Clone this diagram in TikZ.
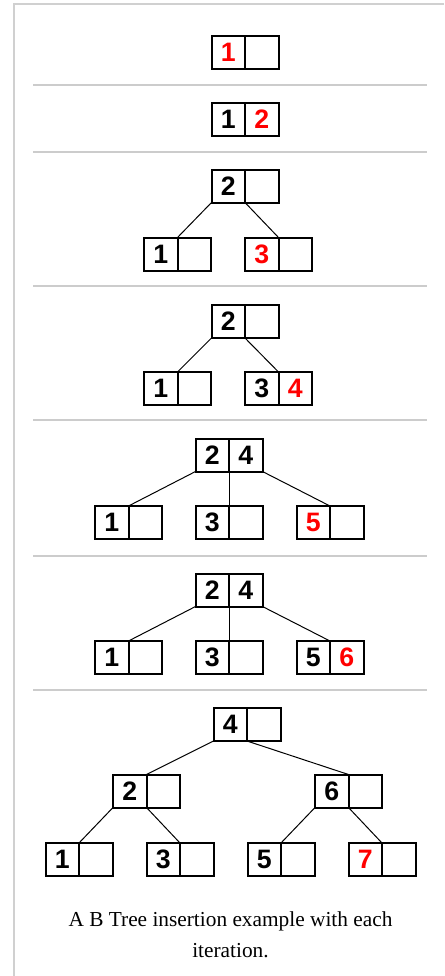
\documentclass[tikz,border=0pt]{standalone}
\usepackage{fontspec}
\setmainfont{Liberation Serif}
\newfontfamily\keyfont{Liberation Sans}
\usepackage{xcolor}
\usepackage{tikz}
\usetikzlibrary{positioning}
\definecolor{KeyRed}{HTML}{FF0000}
\definecolor{RuleGray}{HTML}{CCCCCC}
\definecolor{FrameGray}{HTML}{D0D0D0}
\newcommand{\key}[1]{\makebox[25.125pt][c]{#1}}
\newcommand{\newkey}[1]{\key{\color{KeyRed}#1}}

\begin{document}
\begin{tikzpicture}[x=0.75pt, y=-0.75pt,
    bnode/.style={draw, line width=1.5pt, minimum width=50.25pt, minimum height=24.75pt,
                  inner sep=0pt, outer sep=0pt,
                  font=\keyfont\fontsize{20}{20}\selectfont\bfseries,
                  path picture={\draw[line width=1.5pt] (path picture bounding box.north)
                                -- (path picture bounding box.south);}},
    link/.style={line width=0.75pt},
    rule/.style={RuleGray, line width=1.5pt},
    frame/.style={FrameGray, line width=1.5pt},
  ]
    \useasboundingbox (0,0) rectangle (444,976);
    % frame and separators
    \draw[frame] (444,4) -- (14,4) -- (14,976);
    \foreach \y in {85,152,286,420,556,690}
      \draw[rule] (33,\y) -- (427,\y);

    % insert 1
    \node[bnode] (r1) at (245,52.5) {\newkey{1}\key{}};
    % insert 2
    \node[bnode] (r2) at (245,119.5) {\key{1}\newkey{2}};
    % insert 3
    \node[bnode] (r3) at (245,186) {\key{2}\key{}};
    \node[bnode] (a3) at (177.5,254) {\key{1}\key{}};
    \node[bnode] (b3) at (278.5,254) {\newkey{3}\key{}};
    \draw[link] (r3.south west) -- (a3.north);
    \draw[link] (r3.south) -- (b3.north);
    % insert 4
    \node[bnode] (r4) at (245,321.5) {\key{2}\key{}};
    \node[bnode] (a4) at (177.5,388.5) {\key{1}\key{}};
    \node[bnode] (b4) at (278.5,388.5) {\key{3}\newkey{4}};
    \draw[link] (r4.south west) -- (a4.north);
    \draw[link] (r4.south) -- (b4.north);
    % insert 5
    \node[bnode] (r5) at (229,455) {\key{2}\key{4}};
    \node[bnode] (a5) at (128.5,522.5) {\key{1}\key{}};
    \node[bnode] (b5) at (229,522.5) {\key{3}\key{}};
    \node[bnode] (c5) at (330,522.5) {\newkey{5}\key{}};
    \draw[link] (r5.south west) -- (a5.north);
    \draw[link] (r5.south) -- (b5.north);
    \draw[link] (r5.south east) -- (c5.north);
    % insert 6
    \node[bnode] (r6) at (229,590) {\key{2}\key{4}};
    \node[bnode] (a6) at (128.5,657.5) {\key{1}\key{}};
    \node[bnode] (b6) at (229,657.5) {\key{3}\key{}};
    \node[bnode] (c6) at (330,657.5) {\key{5}\newkey{6}};
    \draw[link] (r6.south west) -- (a6.north);
    \draw[link] (r6.south) -- (b6.north);
    \draw[link] (r6.south east) -- (c6.north);
    % insert 7
    \node[bnode] (r7) at (247,724.5) {\key{4}\key{}};
    \node[bnode] (m7a) at (146.5,791) {\key{2}\key{}};
    \node[bnode] (m7b) at (348.5,791) {\key{6}\key{}};
    \node[bnode] (l7a) at (79,859.5) {\key{1}\key{}};
    \node[bnode] (l7b) at (180,859.5) {\key{3}\key{}};
    \node[bnode] (l7c) at (281,859.5) {\key{5}\key{}};
    \node[bnode] (l7d) at (382,859.5) {\newkey{7}\key{}};
    \draw[link] (r7.south west) -- (m7a.north);
    \draw[link] (r7.south) -- (m7b.north);
    \draw[link] (m7a.south west) -- (l7a.north);
    \draw[link] (m7a.south) -- (l7b.north);
    \draw[link] (m7b.south west) -- (l7c.north);
    \draw[link] (m7b.south) -- (l7d.north);

    % caption
    \node[font=\fontsize{16}{23.25}\selectfont, align=center] (caption) at (230.5,934.5)
      {A B Tree insertion example with each\\iteration.};
  \end{tikzpicture}
\end{document}
